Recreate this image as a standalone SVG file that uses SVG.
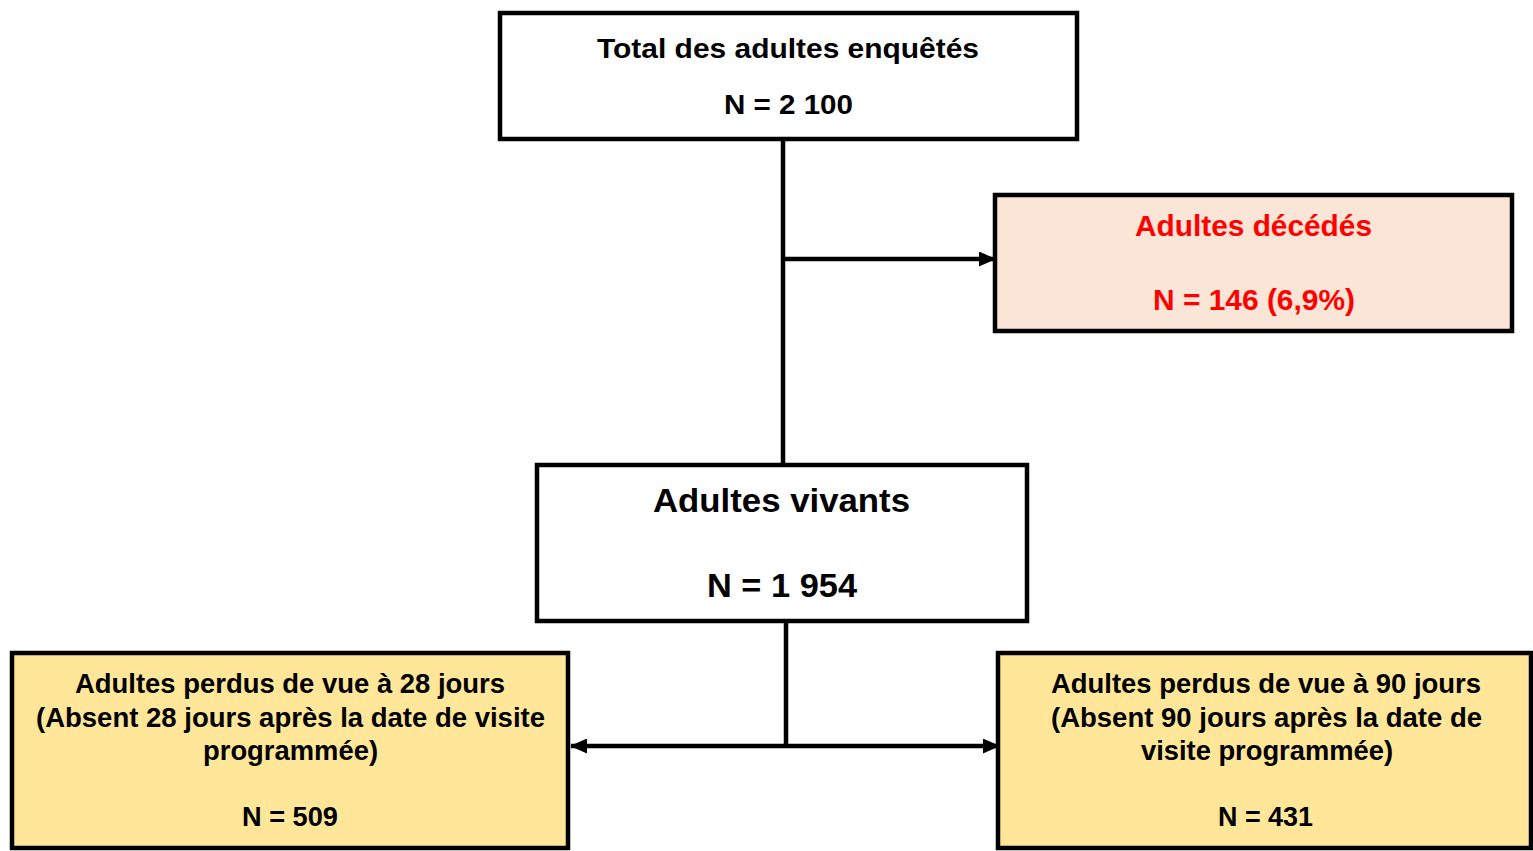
<svg xmlns="http://www.w3.org/2000/svg" width="1533" height="851" viewBox="0 0 1533 851">
<style>
.box{stroke:#000;stroke-width:4.5}
.t{font-family:"Liberation Sans",Arial,sans-serif;font-weight:bold;text-anchor:middle;fill:#000}
.red{fill:#ff0000}
.ln{stroke:#000;stroke-width:4.5;fill:none}
</style>
<defs>
<marker id="ah" markerUnits="userSpaceOnUse" markerWidth="17" markerHeight="15" refX="16" refY="7.5" orient="auto">
<path d="M0,0 L17,7.5 L0,15 Z" fill="#000"/>
</marker>
</defs>
<rect width="1533" height="851" fill="#fff"/>
<g id="connectors">
<line class="ln" x1="783" y1="140" x2="783" y2="465"/>
<line class="ln" x1="783" y1="259" x2="995" y2="259" marker-end="url(#ah)"/>
<line class="ln" x1="786" y1="621" x2="786" y2="746"/>
<line class="ln" x1="786" y1="746" x2="571" y2="746" marker-end="url(#ah)"/>
<line class="ln" x1="786" y1="746" x2="999" y2="746" marker-end="url(#ah)"/>
</g>
<g id="total">
<rect class="box" x="500" y="13" width="577" height="126" fill="#fff"/>
<text class="t" x="788" y="58" font-size="28" textLength="382" lengthAdjust="spacingAndGlyphs">Total des adultes enquêtés</text>
<text class="t" x="788.5" y="114" font-size="28" textLength="129" lengthAdjust="spacingAndGlyphs">N = 2 100</text>
</g>
<g id="deces">
<rect class="box" x="995" y="195" width="517" height="136" fill="#fbe5d6"/>
<text class="t red" x="1253.5" y="236" font-size="30" textLength="237" lengthAdjust="spacingAndGlyphs">Adultes décédés</text>
<text class="t red" x="1254" y="310" font-size="29" textLength="202" lengthAdjust="spacingAndGlyphs">N = 146 (6,9%)</text>
</g>
<g id="vivants">
<rect class="box" x="537" y="465" width="490" height="156" fill="#fff"/>
<text class="t" x="781.5" y="512" font-size="34" textLength="257" lengthAdjust="spacingAndGlyphs">Adultes vivants</text>
<text class="t" x="782" y="597" font-size="34" textLength="150" lengthAdjust="spacingAndGlyphs">N = 1 954</text>
</g>
<g id="perdus28">
<rect class="box" x="12" y="653" width="556" height="195" fill="#ffe699"/>
<text class="t" x="290" y="693" font-size="28" textLength="430" lengthAdjust="spacingAndGlyphs">Adultes perdus de vue à 28 jours</text>
<text class="t" x="290.5" y="727" font-size="28" textLength="509" lengthAdjust="spacingAndGlyphs">(Absent 28 jours après la date de visite</text>
<text class="t" x="290.5" y="760" font-size="28" textLength="175" lengthAdjust="spacingAndGlyphs">programmée)</text>
<text class="t" x="290" y="826" font-size="28" textLength="96" lengthAdjust="spacingAndGlyphs">N = 509</text>
</g>
<g id="perdus90">
<rect class="box" x="998" y="653" width="533" height="195" fill="#ffe699"/>
<text class="t" x="1266" y="693" font-size="28" textLength="430" lengthAdjust="spacingAndGlyphs">Adultes perdus de vue à 90 jours</text>
<text class="t" x="1266.5" y="727" font-size="28" textLength="431" lengthAdjust="spacingAndGlyphs">(Absent 90 jours après la date de</text>
<text class="t" x="1267" y="760" font-size="28" textLength="252" lengthAdjust="spacingAndGlyphs">visite programmée)</text>
<text class="t" x="1265.5" y="826" font-size="28" textLength="95" lengthAdjust="spacingAndGlyphs">N = 431</text>
</g>
</svg>
